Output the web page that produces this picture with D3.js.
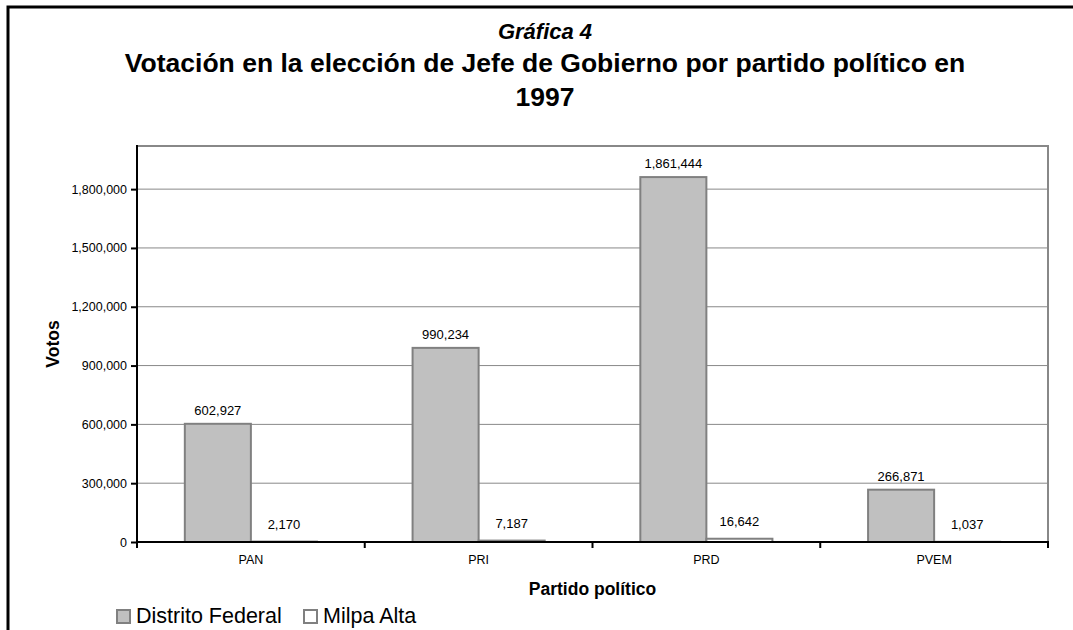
<!DOCTYPE html>
<html>
<head>
<meta charset="utf-8">
<script src="https://cdn.jsdelivr.net/npm/d3@7"></script>
<style>
  body { margin: 0; background: #fff; }
  svg { font-family: "Liberation Sans", Arial, sans-serif; display: block; }
</style>
</head>
<body>
<svg id="chart"></svg>
<script>
// data
const partidos = ["PAN", "PRI", "PRD", "PVEM"];
const distritoFederal = [602927, 990234, 1861444, 266871];
const milpaAlta = [2170, 7187, 16642, 1037];
const series = ["Distrito Federal", "Milpa Alta"];
const yTicks = [0, 300000, 600000, 900000, 1200000, 1500000, 1800000];

const width = 1073, height = 630;
const margin = { top: 146, right: 25, bottom: 88, left: 137 };
const w = width - margin.left - margin.right;
const h = height - margin.top - margin.bottom;

const svg = d3.select("#chart").attr("width", width).attr("height", height);

// outer frame (only top and left visible in the picture)
svg.append("path")
  .attr("d", `M8,${height} L8,7 L${width},7`)
  .attr("fill", "none").attr("stroke", "#000").attr("stroke-width", 3);

// titles
svg.append("text").attr("x", 545).attr("y", 39).attr("text-anchor", "middle")
  .style("font-size", "22px").style("font-weight", "bold").style("font-style", "italic")
  .text("Gráfica 4");
svg.append("text").attr("x", 545).attr("y", 72).attr("text-anchor", "middle")
  .style("font-size", "26.5px").style("font-weight", "bold")
  .text("Votación en la elección de Jefe de Gobierno por partido político en");
svg.append("text").attr("x", 545).attr("y", 106).attr("text-anchor", "middle")
  .style("font-size", "26.5px").style("font-weight", "bold")
  .text("1997");

const g = svg.append("g").attr("transform", `translate(${margin.left},${margin.top})`);

const x = d3.scaleBand().domain(partidos).range([0, w]).paddingInner(0).paddingOuter(0);
const x1 = d3.scaleBand().domain(series).range([x.bandwidth() * 0.21, x.bandwidth() * 0.79]);
const y = d3.scaleLinear().domain([0, 2020000]).range([h, 0]);

// gridlines
g.selectAll("line.grid").data(yTicks.slice(1)).join("line")
  .attr("class", "grid")
  .attr("x1", 0).attr("x2", w)
  .attr("y1", d => y(d)).attr("y2", d => y(d))
  .attr("stroke", "#888").attr("stroke-width", 1);

// plot frame top/right
g.append("path").attr("d", `M0,0 L${w},0 L${w},${h}`)
  .attr("fill", "none").attr("stroke", "#888").attr("stroke-width", 2);

const rows = partidos.map((p, i) => ({ p, vals: [distritoFederal[i], milpaAlta[i]] }));
const fills = ["#c0c0c0", "#fff"];

const grp = g.selectAll("g.cat").data(rows).join("g")
  .attr("class", "cat")
  .attr("transform", d => `translate(${x(d.p)},0)`);

grp.selectAll("rect").data(d => d.vals.map((v, k) => ({ s: series[k], v, k }))).join("rect")
  .attr("x", d => x1(d.s))
  .attr("y", d => y(d.v))
  .attr("width", x1.bandwidth())
  .attr("height", d => h - y(d.v))
  .attr("fill", d => fills[d.k])
  .attr("stroke", "#808080").attr("stroke-width", 2);

grp.selectAll("text.val").data(d => d.vals.map((v, k) => ({ s: series[k], v, k }))).join("text")
  .attr("class", "val")
  .attr("x", d => x1(d.s) + x1.bandwidth() / 2)
  .attr("y", d => y(d.v) - (d.k == 0 ? 9 : 13))
  .attr("text-anchor", "middle")
  .style("font-size", "13px")
  .text(d => d3.format(",")(d.v));

// y axis
const yAxis = g.append("g")
  .call(d3.axisLeft(y).tickValues(yTicks).tickFormat(d3.format(",")).tickSize(6).tickPadding(4));
yAxis.select(".domain").attr("stroke", "#000").attr("stroke-width", 2).attr("d", `M0,${h}V-1`);
yAxis.selectAll(".tick line").attr("stroke", "#000").attr("stroke-width", 2);
yAxis.selectAll(".tick text").style("font-size", "12.5px").style("font-family", "Liberation Sans, Arial, sans-serif").attr("fill", "#000");

// x axis
const xAxis = g.append("g").attr("transform", `translate(0,${h})`)
  .call(d3.axisBottom(x).tickSize(0).tickPadding(13));
xAxis.select(".domain").attr("stroke", "#000").attr("stroke-width", 2).attr("d", `M0,0H${w + 1}`);
xAxis.selectAll(".tick text").style("font-size", "12.5px").style("font-family", "Liberation Sans, Arial, sans-serif").attr("fill", "#000");
xAxis.selectAll("line.ctick").data(partidos.concat(["end"])).join("line")
  .attr("class", "ctick")
  .attr("x1", (d, i) => i * x.bandwidth()).attr("x2", (d, i) => i * x.bandwidth())
  .attr("y1", 0).attr("y2", 6)
  .attr("stroke", "#000").attr("stroke-width", 2);

// axis titles
svg.append("text")
  .attr("transform", `translate(59,${margin.top + h / 2}) rotate(-90)`)
  .attr("text-anchor", "middle")
  .style("font-size", "17.5px").style("font-weight", "bold")
  .text("Votos");
svg.append("text")
  .attr("x", margin.left + w / 2).attr("y", 595)
  .attr("text-anchor", "middle")
  .style("font-size", "17.5px").style("font-weight", "bold")
  .text("Partido político");

// legend
const legendX = [117, 304];
const lg = svg.selectAll("g.legend").data(series).join("g")
  .attr("class", "legend")
  .attr("transform", (d, i) => `translate(${legendX[i]},610)`);
lg.append("rect").attr("width", 13).attr("height", 13)
  .attr("fill", (d, i) => fills[i]).attr("stroke", "#808080").attr("stroke-width", 2);
lg.append("text").attr("x", 19).attr("y", 13)
  .style("font-size", "21.5px")
  .text(d => d);
</script>
</body>
</html>
